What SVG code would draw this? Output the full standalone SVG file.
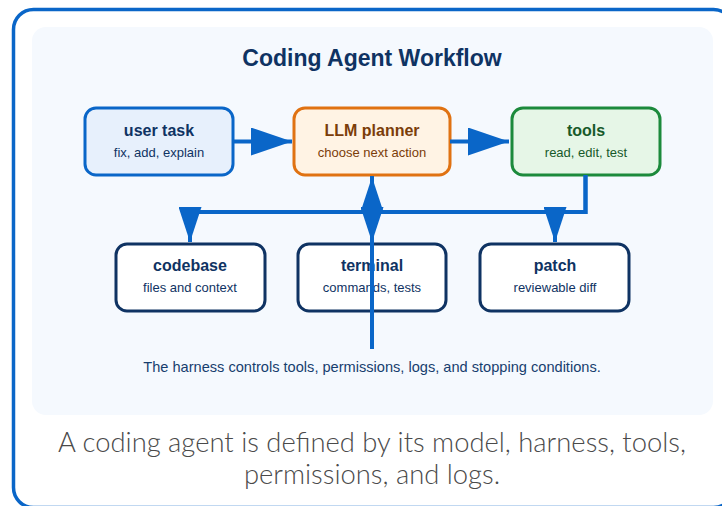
<svg xmlns="http://www.w3.org/2000/svg" width="722" height="506" viewBox="0 0 722 506">
  <defs>
    <style>
      .frame { fill: #ffffff; stroke: #0a66c8; stroke-width: 3.5; }
      .panel { fill: #f5f9fe; }
      .title { font-family: "Liberation Sans", Arial, sans-serif; font-size: 23px; font-weight: bold; fill: #0f3363; text-anchor: middle; }
      .box { stroke-width: 3; }
      .lbl { font-family: "Liberation Sans", Arial, sans-serif; font-size: 16px; font-weight: bold; text-anchor: middle; }
      .sub { font-family: "Liberation Sans", Arial, sans-serif; font-size: 13px; text-anchor: middle; }
      .blue rect { fill: #e7f0fc; stroke: #0a66c8; }
      .blue text { fill: #0f3363; }
      .orange rect { fill: #fff3e4; stroke: #e07212; }
      .orange text { fill: #7b3d0a; }
      .green rect { fill: #e6f6e7; stroke: #1c8a3c; }
      .green text { fill: #175a2a; }
      .plain rect { fill: #ffffff; stroke: #0f3363; }
      .plain text { fill: #0f3363; }
      .edge { fill: none; stroke: #0a66c8; stroke-width: 4; }
      .note { font-family: "Liberation Sans", Arial, sans-serif; font-size: 14.6px; fill: #173e6e; text-anchor: middle; }
      .caption { font-family: Lato, "Open Sans", sans-serif; font-size: 27.4px; font-weight: 300; fill: #4a4a4a; text-anchor: middle; }
    </style>
    <marker id="headWide" markerUnits="userSpaceOnUse" markerWidth="42" markerHeight="28" refX="41" refY="14" orient="auto">
      <path d="M0,0 L41,14 L0,28 Z" fill="#0a66c8"/>
    </marker>
    <marker id="headNarrow" markerUnits="userSpaceOnUse" markerWidth="36" markerHeight="23" refX="35" refY="11.5" orient="auto">
      <path d="M0,0 L35,11.5 L0,23 Z" fill="#0a66c8"/>
    </marker>
  </defs>

  <rect class="frame" x="13.5" y="9.5" width="720" height="498" rx="20"/>
  <rect class="panel" x="32" y="27" width="681" height="388" rx="14"/>

  <text class="title" x="372" y="66">Coding Agent Workflow</text>

  <g id="user-task" class="blue">
    <rect class="box" x="85" y="108" width="148" height="67" rx="11"/>
    <text class="lbl" x="159" y="136">user task</text>
    <text class="sub" x="159" y="157">fix, add, explain</text>
  </g>
  <g id="llm-planner" class="orange">
    <rect class="box" x="294" y="108" width="156" height="67" rx="11"/>
    <text class="lbl" x="372" y="136">LLM planner</text>
    <text class="sub" x="372" y="157">choose next action</text>
  </g>
  <g id="tools" class="green">
    <rect class="box" x="512" y="108" width="148" height="67" rx="11"/>
    <text class="lbl" x="586" y="136">tools</text>
    <text class="sub" x="586" y="157">read, edit, test</text>
  </g>
  <g id="codebase" class="plain">
    <rect class="box" x="116" y="244" width="149" height="67" rx="11"/>
    <text class="lbl" x="190" y="271">codebase</text>
    <text class="sub" x="190" y="292">files and context</text>
  </g>
  <g id="terminal" class="plain">
    <rect class="box" x="298" y="244" width="148" height="67" rx="11"/>
    <text class="lbl" x="372" y="271">terminal</text>
    <text class="sub" x="372" y="292">commands, tests</text>
  </g>
  <g id="patch" class="plain">
    <rect class="box" x="480" y="244" width="149" height="67" rx="11"/>
    <text class="lbl" x="555" y="271">patch</text>
    <text class="sub" x="555" y="292">reviewable diff</text>
  </g>

  <g id="connectors">
    <path class="edge" d="M233,141.5 H292" marker-end="url(#headWide)"/>
    <path class="edge" d="M450,141.5 H509" marker-end="url(#headWide)"/>
    <path class="edge" d="M585.5,175 V212 H190 V242" marker-end="url(#headNarrow)"/>
    <path class="edge" d="M585.5,175 V212 H555 V242" marker-end="url(#headNarrow)"/>
    <path class="edge" d="M372,176 V242" marker-end="url(#headNarrow)"/>
    <path class="edge" d="M372,349 V177" marker-end="url(#headNarrow)"/>
  </g>

  <text class="note" x="372" y="372">The harness controls tools, permissions, logs, and stopping conditions.</text>

  <text class="caption" x="372" y="452">A coding agent is defined by its model, harness, tools,</text>
  <text class="caption" x="372" y="484">permissions, and logs.</text>
</svg>
